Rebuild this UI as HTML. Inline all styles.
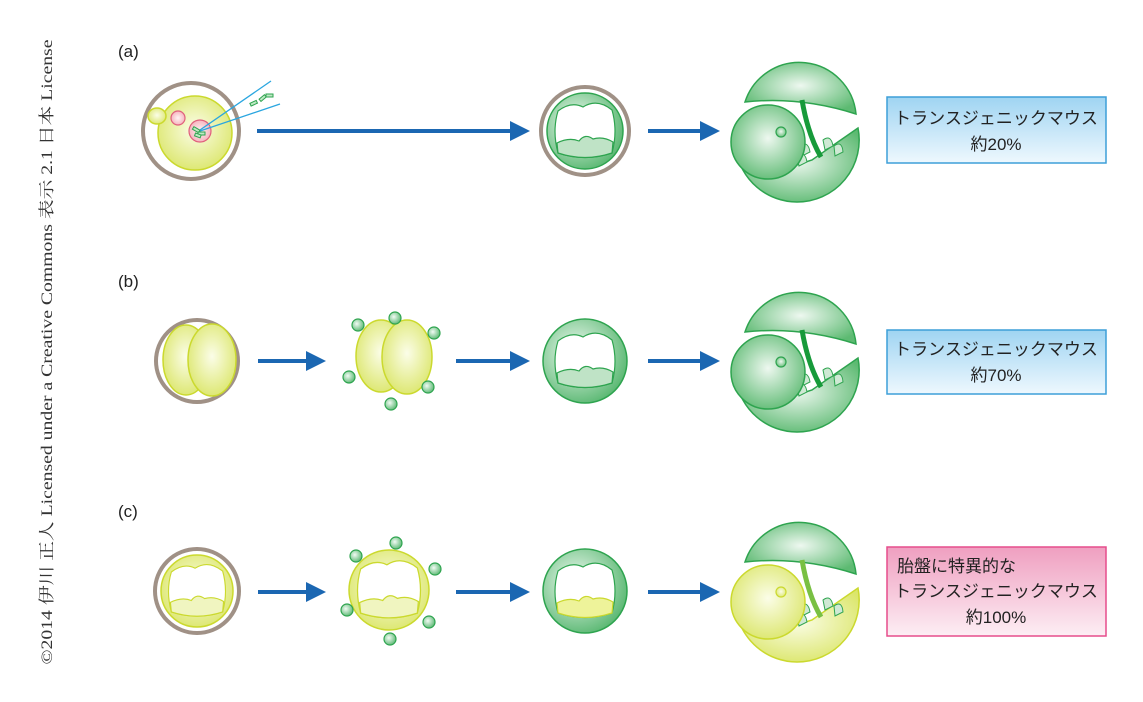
<!DOCTYPE html>
<html><head><meta charset="utf-8"><style>
html,body{margin:0;padding:0;background:#fff;width:1143px;height:702px;overflow:hidden}
svg{display:block}
text{font-family:"Liberation Sans","Noto Sans CJK JP",sans-serif}
</style></head><body>
<svg width="1143" height="702" viewBox="0 0 1143 702" xmlns="http://www.w3.org/2000/svg">
<defs>
<radialGradient id="gG" cx="0.5" cy="0.45" r="0.6"><stop offset="0" stop-color="#eef8f0"/><stop offset="1" stop-color="#5dba72"/></radialGradient>
<radialGradient id="gY" cx="0.5" cy="0.45" r="0.6"><stop offset="0" stop-color="#fbfde8"/><stop offset="1" stop-color="#dbe66a"/></radialGradient>
<radialGradient id="gP" cx="0.5" cy="0.5" r="0.6"><stop offset="0" stop-color="#fff3f3"/><stop offset="1" stop-color="#f4a8b4"/></radialGradient>
<radialGradient id="gB" cx="0.4" cy="0.4" r="0.7"><stop offset="0" stop-color="#f2fbf4"/><stop offset="1" stop-color="#4db267"/></radialGradient>
<linearGradient id="lB" x1="0" y1="0" x2="0" y2="1"><stop offset="0" stop-color="#9fd4f2"/><stop offset="1" stop-color="#eef8fe"/></linearGradient>
<linearGradient id="lP" x1="0" y1="0" x2="0" y2="1"><stop offset="0" stop-color="#ef9fc0"/><stop offset="1" stop-color="#fdeef4"/></linearGradient>
<marker id="ar" markerWidth="5" markerHeight="5" refX="0" refY="2.5" orient="auto" markerUnits="strokeWidth"><path d="M0,0 L5,2.5 L0,5 Z" fill="#1b67b2"/></marker>
<path id="cav" d="M-27,-20 Q-14,-30 -2,-24 Q12,-33 27,-21 Q33,0 27,22 Q0,31 -27,22 Q-33,0 -27,-20 Z"/>
<path id="mass" d="M-28,12 Q-16,6 -6,10 Q0,2 8,8 Q18,5 28,11 L27,22 Q0,31 -27,22 Z"/>
</defs>

<text transform="translate(52,352) rotate(-90)" text-anchor="middle" textLength="625" lengthAdjust="spacingAndGlyphs" font-size="16" fill="#333" style="font-family:'Liberation Serif','Noto Serif CJK SC',serif">©2014 伊川 正人 Licensed under a Creative Commons 表示 2.1 日本 License</text>

<text x="118" y="57" font-size="17" fill="#222">(a)</text>
<text x="118" y="287" font-size="17" fill="#222">(b)</text>
<text x="118" y="517" font-size="17" fill="#222">(c)</text>

<!-- row a -->
<circle cx="191" cy="131" r="48" fill="#fff" stroke="#a09186" stroke-width="4"/>
<circle cx="195" cy="133" r="37" fill="url(#gY)" stroke="#cbd92e" stroke-width="1.5"/>
<ellipse cx="157" cy="116" rx="9" ry="8" fill="url(#gY)" stroke="#cbd92e" stroke-width="1.5"/>
<circle cx="178" cy="118" r="7" fill="url(#gP)" stroke="#e0607c" stroke-width="1.2"/>
<circle cx="200" cy="131" r="11" fill="url(#gP)" stroke="#e0607c" stroke-width="1.2"/>
<line x1="200" y1="130" x2="271" y2="81" stroke="#2aa6e0" stroke-width="1.3"/>
<line x1="200" y1="131" x2="280" y2="104" stroke="#2aa6e0" stroke-width="1.3"/>
<g fill="#bfe8c4" stroke="#2ea44f" stroke-width="1">
<rect x="250" y="102" width="7" height="3" transform="rotate(-25 253 103)"/>
<rect x="259" y="97" width="7" height="3" transform="rotate(-40 262 98)"/>
<rect x="266" y="94" width="7" height="3"/>
<rect x="193" y="128" width="7" height="3" transform="rotate(30 196 129)"/>
<rect x="198" y="132" width="7" height="3"/>
<rect x="195" y="134" width="6" height="3" transform="rotate(20 198 135)"/>
</g>
<line x1="257" y1="131" x2="510" y2="131" stroke="#1b67b2" stroke-width="4" marker-end="url(#ar)"/>
<circle cx="585" cy="131" r="44" fill="#fff" stroke="#a09186" stroke-width="4"/>
<g transform="translate(585,131)"><circle r="38" fill="url(#gB)" stroke="#2ea44f" stroke-width="1.5"/><use href="#cav" fill="#fff" stroke="#2ea44f" stroke-width="1.2"/><use href="#mass" fill="#bfe3c6" stroke="#2ea44f" stroke-width="1.2"/></g>
<line x1="648" y1="131" x2="700" y2="131" stroke="#1b67b2" stroke-width="4" marker-end="url(#ar)"/>

<g id="m1">
<path d="M745,102 A57,57 0 0 1 856,114 Q800,96 745,102 Z" fill="url(#gG)" stroke="#2ea44f" stroke-width="1.5"/>
<path d="M736,150 A62,62 0 0 0 797,202 A62,62 0 0 0 858,128 L812,160 L775,172 Z" fill="url(#gG)" stroke="#2ea44f" stroke-width="1.5"/>
<g fill="#cfe9d4" stroke="#2ea44f" stroke-width="1"><path d="M800,146 q8,-6 10,6 l-8,4 z"/><path d="M797,156 q8,-6 10,6 l-8,4 z"/><path d="M823,140 q8,-6 10,6 l-8,4 z"/><path d="M834,146 q8,-6 9,6 l-8,4 z"/></g>
<path d="M802,100 Q808,135 821,157" fill="none" stroke="#179a3a" stroke-width="5"/>
<circle cx="768" cy="142" r="37" fill="url(#gG)" stroke="#2ea44f" stroke-width="1.5"/>
<circle cx="781" cy="132" r="5" fill="url(#gG)" stroke="#2ea44f" stroke-width="1.2"/>
</g>
<use href="#m1" transform="translate(0,230)"/>
<g transform="translate(0,460)">
<path d="M745,102 A57,57 0 0 1 856,114 Q800,96 745,102 Z" fill="url(#gG)" stroke="#2ea44f" stroke-width="1.5"/>
<path d="M736,150 A62,62 0 0 0 797,202 A62,62 0 0 0 858,128 L812,160 L775,172 Z" fill="url(#gY)" stroke="#cbd92e" stroke-width="1.5"/>
<g fill="#cfe9d4" stroke="#2ea44f" stroke-width="1"><path d="M800,146 q8,-6 10,6 l-8,4 z"/><path d="M797,156 q8,-6 10,6 l-8,4 z"/><path d="M823,140 q8,-6 10,6 l-8,4 z"/><path d="M834,146 q8,-6 9,6 l-8,4 z"/></g>
<path d="M802,100 Q808,135 821,157" fill="none" stroke="#79c043" stroke-width="5"/>
<circle cx="768" cy="142" r="37" fill="url(#gY)" stroke="#cbd92e" stroke-width="1.5"/>
<circle cx="781" cy="132" r="5" fill="url(#gY)" stroke="#cbd92e" stroke-width="1.2"/>
</g>

<rect x="887" y="97" width="219" height="66" fill="url(#lB)" stroke="#3d9fd8" stroke-width="1.5"/>
<text x="996" y="124" text-anchor="middle" font-size="17" fill="#222">トランスジェニックマウス</text>
<text x="996" y="150" text-anchor="middle" font-size="17" fill="#222">約20%</text>

<!-- row b -->
<circle cx="197" cy="361" r="41" fill="#fff" stroke="#a09186" stroke-width="4"/>
<ellipse cx="186" cy="360" rx="23" ry="35" fill="url(#gY)" stroke="#cbd92e" stroke-width="1.5"/>
<ellipse cx="212" cy="360" rx="24" ry="36" fill="url(#gY)" stroke="#cbd92e" stroke-width="1.5"/>
<line x1="258" y1="361" x2="306" y2="361" stroke="#1b67b2" stroke-width="4" marker-end="url(#ar)"/>
<ellipse cx="381" cy="356" rx="25" ry="36" fill="url(#gY)" stroke="#cbd92e" stroke-width="1.5"/>
<ellipse cx="407" cy="357" rx="25" ry="37" fill="url(#gY)" stroke="#cbd92e" stroke-width="1.5"/>
<g fill="url(#gB)" stroke="#2ea44f" stroke-width="1.2"><circle cx="358" cy="325" r="6"/><circle cx="395" cy="318" r="6"/><circle cx="434" cy="333" r="6"/><circle cx="349" cy="377" r="6"/><circle cx="428" cy="387" r="6"/><circle cx="391" cy="404" r="6"/></g>
<line x1="456" y1="361" x2="510" y2="361" stroke="#1b67b2" stroke-width="4" marker-end="url(#ar)"/>
<g transform="translate(585,361)"><circle r="42" fill="url(#gB)" stroke="#2ea44f" stroke-width="1.5"/><use href="#cav" fill="#fff" stroke="#2ea44f" stroke-width="1.2"/><use href="#mass" fill="#bfe3c6" stroke="#2ea44f" stroke-width="1.2"/></g>
<line x1="648" y1="361" x2="700" y2="361" stroke="#1b67b2" stroke-width="4" marker-end="url(#ar)"/>
<rect x="887" y="330" width="219" height="64" fill="url(#lB)" stroke="#3d9fd8" stroke-width="1.5"/>
<text x="996" y="355" text-anchor="middle" font-size="17" fill="#222">トランスジェニックマウス</text>
<text x="996" y="381" text-anchor="middle" font-size="17" fill="#222">約70%</text>

<!-- row c -->
<circle cx="197" cy="591" r="42" fill="#fff" stroke="#a09186" stroke-width="4"/>
<g transform="translate(197,591)"><circle r="36" fill="url(#gY)" stroke="#cbd92e" stroke-width="1.5"/><use href="#cav" fill="#fff" stroke="#cbd92e" stroke-width="1.2" transform="scale(0.95)"/><use href="#mass" fill="#f0f5c0" stroke="#cbd92e" stroke-width="1.2" transform="scale(0.95)"/></g>
<line x1="258" y1="592" x2="306" y2="592" stroke="#1b67b2" stroke-width="4" marker-end="url(#ar)"/>
<g transform="translate(389,590)"><circle r="40" fill="url(#gY)" stroke="#cbd92e" stroke-width="1.5"/><use href="#cav" fill="#fff" stroke="#cbd92e" stroke-width="1.2" transform="scale(1.05)"/><use href="#mass" fill="#f0f5c0" stroke="#cbd92e" stroke-width="1.2" transform="scale(1.05)"/></g>
<g fill="url(#gB)" stroke="#2ea44f" stroke-width="1.2"><circle cx="396" cy="543" r="6"/><circle cx="356" cy="556" r="6"/><circle cx="435" cy="569" r="6"/><circle cx="347" cy="610" r="6"/><circle cx="429" cy="622" r="6"/><circle cx="390" cy="639" r="6"/></g>
<line x1="456" y1="592" x2="510" y2="592" stroke="#1b67b2" stroke-width="4" marker-end="url(#ar)"/>
<g transform="translate(585,591)"><circle r="42" fill="url(#gB)" stroke="#2ea44f" stroke-width="1.5"/><use href="#cav" fill="#fff" stroke="#2ea44f" stroke-width="1.2"/><use href="#mass" fill="#eef39a" stroke="#cbd92e" stroke-width="1.2"/></g>
<line x1="648" y1="592" x2="700" y2="592" stroke="#1b67b2" stroke-width="4" marker-end="url(#ar)"/>
<rect x="887" y="547" width="219" height="89" fill="url(#lP)" stroke="#e64d8c" stroke-width="1.5"/>
<text x="897" y="572" font-size="17" fill="#222">胎盤に特異的な</text>
<text x="996" y="597" text-anchor="middle" font-size="17" fill="#222">トランスジェニックマウス</text>
<text x="996" y="623" text-anchor="middle" font-size="17" fill="#222">約100%</text>
</svg>
</body></html>
